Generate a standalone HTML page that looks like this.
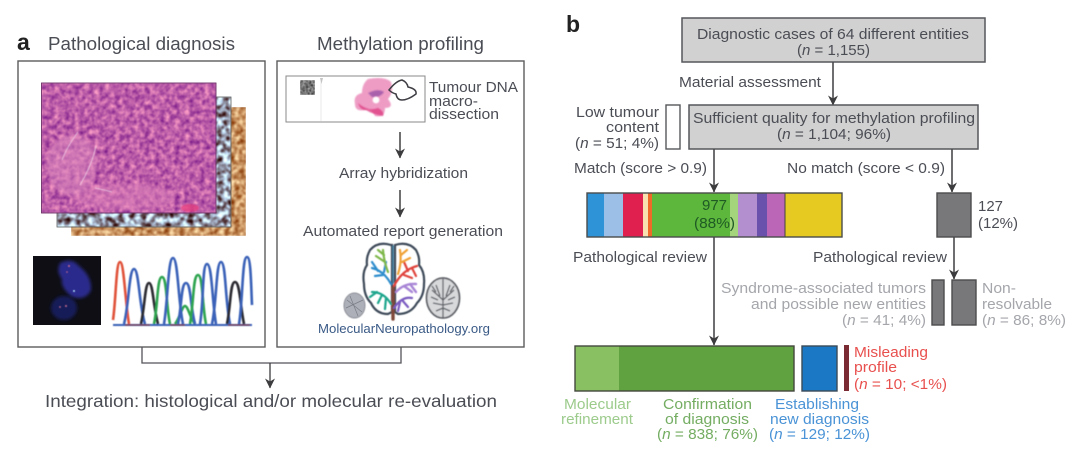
<!DOCTYPE html>
<html lang="en">
<head>
<meta charset="utf-8">
<title>Diagram</title>
<style>
html,body{margin:0;padding:0;background:#fff;width:1080px;height:456px;overflow:hidden}
svg{display:block;filter:blur(.35px)}
text{font-family:"Liberation Sans",sans-serif;font-size:15px;fill:#4b4d55}
.h{font-size:18px}
.g{fill:#a4a6ab}
.lg{fill:#9ccb8c}
.mg{fill:#74ad62}
.bl{fill:#4a93d6}
.rd{fill:#e8504e}
.i{font-style:italic}
.ln{fill:none;stroke:#4a4a4c;stroke-width:1.6}
</style>
</head>
<body>
<svg width="1080" height="456" viewBox="0 0 1080 456" xmlns="http://www.w3.org/2000/svg">
<defs>
<filter id="he" x="0" y="0" width="100%" height="100%" color-interpolation-filters="sRGB">
<feTurbulence type="fractalNoise" baseFrequency="0.2" numOctaves="2" seed="4"/>
<feColorMatrix type="matrix" values=".7 0 0 0 .39  .7 0 0 0 .02  .32 0 0 0 .5  0 0 0 0 1"/>
<feGaussianBlur stdDeviation=".6"/>
</filter>
<filter id="ih1" x="0" y="0" width="100%" height="100%" color-interpolation-filters="sRGB">
<feTurbulence type="fractalNoise" baseFrequency="0.17" numOctaves="2" seed="8"/>
<feColorMatrix type="matrix" values="1.5 0 0 0 -.17  2.2 0 0 0 -.5  2.5 0 0 0 -.58  0 0 0 0 1"/>
<feGaussianBlur stdDeviation=".7"/>
</filter>
<filter id="ih2" x="0" y="0" width="100%" height="100%" color-interpolation-filters="sRGB">
<feTurbulence type="fractalNoise" baseFrequency="0.2" numOctaves="2" seed="12"/>
<feColorMatrix type="matrix" values=".8 0 0 0 .38  1.1 0 0 0 .02  1.1 0 0 0 -.18  0 0 0 0 1"/>
<feGaussianBlur stdDeviation=".7"/>
</filter>
<filter id="soft" x="-30%" y="-30%" width="160%" height="160%"><feGaussianBlur stdDeviation="1.6"/></filter>
<filter id="soft2" x="-20%" y="-20%" width="140%" height="140%"><feGaussianBlur stdDeviation=".7"/></filter>
<filter id="soft3" x="-5%" y="-5%" width="110%" height="110%"><feGaussianBlur stdDeviation=".4"/></filter>
<filter id="qr" x="0" y="0" width="100%" height="100%" color-interpolation-filters="sRGB">
<feTurbulence type="fractalNoise" baseFrequency="0.6" numOctaves="1" seed="3"/>
<feColorMatrix type="matrix" values="1.2 0 0 0 -.15  1.2 0 0 0 -.15  1.2 0 0 0 -.15  0 0 0 0 1"/>
<feGaussianBlur stdDeviation=".4"/>
</filter>
<marker id="ar" viewBox="0 0 10 10" refX="9.500" refY="5" markerWidth="10" markerHeight="10" markerUnits="userSpaceOnUse" orient="auto"><path d="M0 0 L10 5 L0 10 L3 5 Z" fill="#3c3c3e"/></marker>
</defs>

<!-- Panel a titles -->
<text x="17" y="50" style="font-size:23px;font-weight:bold;fill:#222">a</text>
<text class="h" x="48" y="50" textLength="187" lengthAdjust="spacingAndGlyphs">Pathological diagnosis</text>
<text class="h" x="317" y="50" textLength="167" lengthAdjust="spacingAndGlyphs">Methylation profiling</text>

<!-- Panel a boxes -->
<rect x="18" y="61" width="247" height="286" fill="#fff" stroke="#5c5c5e" stroke-width="1.4"/>
<rect x="277" y="61" width="247" height="286" fill="#fff" stroke="#5c5c5e" stroke-width="1.4"/>

<!-- Histology stack -->
<rect x="71" y="107" width="175" height="129" filter="url(#ih2)"/>
<rect x="57" y="97" width="174" height="130" filter="url(#ih1)"/>
<rect x="57" y="97" width="174" height="130" fill="none" stroke="#5a5f60" stroke-width=".8"/>
<rect x="41.500" y="83" width="174.500" height="130" filter="url(#he)"/>
<rect x="41.500" y="83" width="174.500" height="130" fill="none" stroke="#6d2f66" stroke-width=".9"/>
<ellipse cx="125" cy="197" rx="50" ry="13" fill="#e084bb" opacity=".5" filter="url(#soft)"/>
<ellipse cx="72" cy="165" rx="25" ry="30" fill="#df8cc0" opacity=".5" filter="url(#soft)"/>
<ellipse cx="190" cy="208" rx="9" ry="4" fill="#e8407e" opacity=".75" filter="url(#soft2)"/>
<path d="M62 160 Q68 145 78 132M96 146 Q92 165 80 185M95 188 Q105 190 112 192" fill="none" stroke="#f1d8ea" stroke-width="1" opacity=".7" filter="url(#soft3)"/>

<!-- FISH -->
<rect x="33" y="256" width="68" height="69" fill="#0e0e14"/>
<path d="M60 263 Q72 257 79 266 Q92 276 91 290 Q86 301 72 297 Q60 287 62 279 Q56 272 60 263Z" fill="#2a2c8c" filter="url(#soft)"/>
<ellipse cx="64" cy="308" rx="13" ry="12" fill="#191b58" filter="url(#soft)"/>
<g fill="#c86a8c" filter="url(#soft3)"><circle cx="69" cy="266" r="1"/><circle cx="66" cy="306" r="1"/><circle cx="60" cy="307" r=".9"/><circle cx="67" cy="272" r=".8"/></g>
<circle cx="74" cy="291" r="1.1" fill="#9cc6e8" filter="url(#soft3)"/>

<!-- Chromatogram -->
<g fill="none" stroke-width="2.6" filter="url(#soft3)">
<path d="M175 324 C180 318 182 306 185 306 C188 306 190 318 195 324" stroke="#2fa450"/>
<path d="M113 320 C116 300 116 262 120 262 C124 262 125 300 129 324" stroke="#e0523a"/>
<path d="M124 324 C129 305 129 269 134 269 C139 269 139 305 145 324" stroke="#3a62b8"/>
<path d="M141 324 C145 305 145 283 149 283 C153 283 153 305 158 324" stroke="#2a2a30"/>
<path d="M154 324 C158 305 157 277 162 277 C167 277 166 305 170 324" stroke="#2fa450"/>
<path d="M164 324 C168 300 168 258 173 258 C178 258 178 300 183 324" stroke="#3a62b8"/>
<path d="M178 324 C182 305 181 283 186 283 C191 283 190 305 195 324" stroke="#3a62b8"/>
<path d="M190 324 C194 300 193 275 198 275 C203 275 202 305 206 324" stroke="#2fa450"/>
<path d="M200 324 C204 300 202 264 207 264 C212 264 212 300 216 324" stroke="#3a62b8"/>
<path d="M212 324 C217 300 216 262 221 262 C226 262 225 300 230 324" stroke="#3a62b8"/>
<path d="M227 324 C231 305 230 282 235 282 C240 282 240 305 244 324" stroke="#2a2a30"/>
<path d="M239 324 C243 300 242 257 247 257 C251 257 251 285 252 305" stroke="#3a62b8"/>
<path d="M113 325 H252" stroke="#3a62b8" stroke-width="2"/>
<path d="M125 325 H150M170 325 H185M228 325 H250" stroke="#7a3a3a" stroke-width="1.2"/>
</g>

<!-- Slide -->
<rect x="286" y="76" width="139" height="46" fill="#fff" stroke="#8a8a8a" stroke-width="1"/>
<rect x="300" y="80" width="15" height="15" filter="url(#qr)"/>
<path d="M321 78 V121" stroke="#e8e8e8" stroke-width="1"/>
<path d="M320 78 l1.500 6 l1.500 -6z" fill="#c4c4c4"/>
<path d="M368 79 Q385 76 391 82 Q394 92 388 99 Q395 108 385 108 Q385 118 375 116 Q372 108 365 110 Q355 112 355 104 Q353 95 362 93 Q362 84 368 79Z" fill="#ee9cc4" filter="url(#soft2)"/>
<path d="M358 103 Q368 112 378 108 Q385 112 383 116 Q372 114 366 110 Q360 110 358 103Z" fill="#de3f83" opacity=".8" filter="url(#soft2)"/>
<path d="M368 93 Q378 88 384 92 Q380 98 372 97Z" fill="#8e4aa3" opacity=".7" filter="url(#soft2)"/>
<circle cx="376" cy="100" r="3.400" fill="#fff" filter="url(#soft2)"/>
<path d="M389 90 Q396 81 402 80 Q407 82 408 87 Q417 89 416 94 Q408 100 402 100 Q397 100 396 94 Q392 93 389 90Z" fill="none" stroke="#3e3e44" stroke-width="1.500"/>

<text x="429" y="92" textLength="89" lengthAdjust="spacingAndGlyphs">Tumour DNA</text>
<text x="429" y="106" textLength="49" lengthAdjust="spacingAndGlyphs">macro-</text>
<text x="429" y="119" textLength="70" lengthAdjust="spacingAndGlyphs">dissection</text>

<line x1="400" y1="132" x2="400" y2="158" stroke="#222" stroke-width="1.3" marker-end="url(#ar)"/>
<text x="339" y="178" textLength="129" lengthAdjust="spacingAndGlyphs">Array hybridization</text>
<line x1="400" y1="190" x2="400" y2="217" stroke="#222" stroke-width="1.3" marker-end="url(#ar)"/>
<text x="303" y="236" textLength="200" lengthAdjust="spacingAndGlyphs">Automated report generation</text>

<!-- Brain -->
<g fill="none" stroke-linecap="round" filter="url(#soft3)">
<path d="M391 245 Q378 241 370 250 Q366 257 367 265 Q362 272 364 284 Q364 296 371 303 Q376 314 388 314 L392 312 L392 245Z" stroke="#3e4a58" stroke-width="2.200"/>
<path d="M395 245 Q408 241 416 250 Q420 257 419 265 Q425 272 424 284 Q424 296 417 303 Q411 314 398 314 L395 312 L395 245Z" stroke="#3e4a58" stroke-width="2.200"/>
<path d="M393 246 V283" stroke="#3f7d9e" stroke-width="1.600"/>
<path d="M393 288 V319" stroke="#80493a" stroke-width="3.400"/>
<path d="M391 284 Q384 271 372 268M383 275 L375 276M384 272 L386 262M378 271 L372 262" stroke="#2f8dcc" stroke-width="2.200"/>
<path d="M388 272 Q384 262 383 250M385 262 L376 256M384 255 L378 250" stroke="#7eb74a" stroke-width="2.200"/>
<path d="M391 304 Q384 292 372 292M382 295 L378 303M386 298 L385 309M377 292 L370 297" stroke="#1fa58c" stroke-width="2.200"/>
<path d="M394 286 Q402 270 417 266M404 275 L412 278M408 271 L404 262M412 268 L416 276" stroke="#e0443c" stroke-width="2.200"/>
<path d="M398 274 Q402 262 400 250M402 262 L410 258M401 255 L407 250" stroke="#f0a238" stroke-width="2.200"/>
<path d="M396 292 Q404 283 416 284M404 286 L412 292M410 284 L416 292" stroke="#a886d6" stroke-width="2.400"/>
<path d="M394 308 Q402 296 412 298M402 300 L408 307M400 302 L398 311" stroke="#7a5cc0" stroke-width="2.200"/>
</g>
<g fill="none" stroke="#5e6268" filter="url(#soft3)">
<ellipse cx="443" cy="298" rx="16.500" ry="20" fill="#d8d9db" stroke-width="1.800"/>
<path d="M443 279 V318M443 300 L432 290M443 305 L433 303M443 300 L454 290M443 305 L453 303M436 285 L440 296M450 285 L446 296M436 311 L443 308M450 311 L443 308M431 297 L438 300M455 297 L448 300M436 292 L432 286M450 292 L454 286" stroke-width="1.300"/>
</g>
<ellipse cx="354.500" cy="305.500" rx="10.500" ry="12.500" fill="#aeb0b9" stroke="#8a8c96" filter="url(#soft3)"/>
<path d="M347 300 L362 312M350 296 L358 316M346 308 L363 300" stroke="#7a7c86" stroke-width=".7"/>

<text x="318" y="333" textLength="172" lengthAdjust="spacingAndGlyphs" style="font-size:12.500px;fill:#3a5a86">MolecularNeuropathology.org</text>

<!-- Integration -->
<path d="M142 347 V363 H401 V347" fill="none" stroke="#55555a" stroke-width="1.300"/>
<line x1="270" y1="363" x2="270" y2="388" stroke="#3c3c3e" stroke-width="1.300" marker-end="url(#ar)"/>
<text x="45" y="407" textLength="452" lengthAdjust="spacingAndGlyphs" style="font-size:17.500px">Integration: histological and/or molecular re-evaluation</text>

<!-- Panel b -->
<text x="566" y="32" style="font-size:23px;font-weight:bold;fill:#222">b</text>

<rect x="682" y="18" width="303" height="44" fill="#d1d1d1" stroke="#55575a" stroke-width="1.500"/>
<text x="697" y="39" textLength="272" lengthAdjust="spacingAndGlyphs">Diagnostic cases of 64 different entities</text>
<text x="797" y="55" textLength="73" lengthAdjust="spacingAndGlyphs">(<tspan class="i">n</tspan> = 1,155)</text>

<line class="ln" x1="833" y1="62" x2="833" y2="105" marker-end="url(#ar)"/>
<text x="679" y="87" textLength="142" lengthAdjust="spacingAndGlyphs">Material assessment</text>

<rect x="689" y="105" width="289" height="44" fill="#d1d1d1" stroke="#55575a" stroke-width="1.500"/>
<text x="693" y="123" textLength="282" lengthAdjust="spacingAndGlyphs">Sufficient quality for methylation profiling</text>
<text x="777" y="139" textLength="114" lengthAdjust="spacingAndGlyphs">(<tspan class="i">n</tspan> = 1,104; 96%)</text>

<rect x="666" y="105" width="14" height="44" fill="#fff" stroke="#55575a" stroke-width="1.400"/>
<text x="576" y="117" textLength="83" lengthAdjust="spacingAndGlyphs">Low tumour</text>
<text x="606" y="132" textLength="53" lengthAdjust="spacingAndGlyphs">content</text>
<text x="575" y="148" textLength="84" lengthAdjust="spacingAndGlyphs">(<tspan class="i">n</tspan> = 51; 4%)</text>

<text x="574" y="173" textLength="133" lengthAdjust="spacingAndGlyphs">Match (score &gt; 0.9)</text>
<text x="787" y="173" textLength="158" lengthAdjust="spacingAndGlyphs">No match (score &lt; 0.9)</text>

<line class="ln" x1="714" y1="149" x2="714" y2="192" marker-end="url(#ar)"/>
<line class="ln" x1="952" y1="149" x2="952" y2="192" marker-end="url(#ar)"/>

<!-- Stacked bar -->
<g>
<rect x="587" y="193" width="17" height="44" fill="#2f93d8"/>
<rect x="604" y="193" width="19" height="44" fill="#9bbfe6"/>
<rect x="623" y="193" width="20" height="44" fill="#e0204e"/>
<rect x="643" y="193" width="5" height="44" fill="#f8e0b0"/>
<rect x="648" y="193" width="4" height="44" fill="#ef6a28"/>
<rect x="652" y="193" width="78" height="44" fill="#5cb73c"/>
<rect x="730" y="193" width="8" height="44" fill="#a4d47c"/>
<rect x="738" y="193" width="19" height="44" fill="#b48fd0"/>
<rect x="757" y="193" width="10" height="44" fill="#6a52ac"/>
<rect x="767" y="193" width="18" height="44" fill="#bb66b6"/>
<rect x="785" y="193" width="57" height="44" fill="#e6ca22"/>
<line x1="785" y1="193" x2="785" y2="237" stroke="#44443c" stroke-width="1"/>
<rect x="587" y="193" width="255" height="44" fill="none" stroke="#4a4c4c" stroke-width="1.400"/>
</g>
<text x="702" y="210" textLength="25" lengthAdjust="spacingAndGlyphs" style="fill:#1f5a24">977</text>
<text x="694" y="228" textLength="41" lengthAdjust="spacingAndGlyphs" style="fill:#1f5a24">(88%)</text>

<rect x="937" y="193" width="34" height="44" fill="#78787a" stroke="#4c4c4e" stroke-width="1.400"/>
<text x="978" y="211" textLength="25" lengthAdjust="spacingAndGlyphs">127</text>
<text x="978" y="228" textLength="40" lengthAdjust="spacingAndGlyphs">(12%)</text>

<text x="573" y="262" textLength="134" lengthAdjust="spacingAndGlyphs">Pathological review</text>
<text x="813" y="262" textLength="134" lengthAdjust="spacingAndGlyphs">Pathological review</text>

<line class="ln" x1="714" y1="237" x2="714" y2="345" marker-end="url(#ar)"/>
<line class="ln" x1="954" y1="237" x2="954" y2="279" marker-end="url(#ar)"/>

<rect x="932" y="280" width="12" height="45" fill="#78787a" stroke="#4c4c4e" stroke-width="1.400"/>
<rect x="952" y="280" width="24" height="45" fill="#78787a" stroke="#4c4c4e" stroke-width="1.400"/>
<text class="g" x="721" y="293" textLength="205" lengthAdjust="spacingAndGlyphs">Syndrome-associated tumors</text>
<text class="g" x="751" y="309" textLength="175" lengthAdjust="spacingAndGlyphs">and possible new entities</text>
<text class="g" x="842" y="325" textLength="84" lengthAdjust="spacingAndGlyphs">(<tspan class="i">n</tspan> = 41; 4%)</text>
<text class="g" x="982" y="293" textLength="34" lengthAdjust="spacingAndGlyphs">Non-</text>
<text class="g" x="982" y="309" textLength="70" lengthAdjust="spacingAndGlyphs">resolvable</text>
<text class="g" x="982" y="325" textLength="84" lengthAdjust="spacingAndGlyphs">(<tspan class="i">n</tspan> = 86; 8%)</text>

<!-- Bottom bars -->
<rect x="575" y="346" width="44" height="45" fill="#88c062"/>
<rect x="619" y="346" width="175" height="45" fill="#5fa23f"/>
<rect x="575" y="346" width="219" height="45" fill="none" stroke="#44483f" stroke-width="1.400"/>
<rect x="802" y="346" width="35" height="45" fill="#1a78c4" stroke="#3a4a58" stroke-width="1.400"/>
<rect x="844" y="345" width="5" height="46" fill="#7a2a32"/>

<text class="rd" x="854" y="357" textLength="74" lengthAdjust="spacingAndGlyphs">Misleading</text>
<text class="rd" x="854" y="372" textLength="43" lengthAdjust="spacingAndGlyphs">profile</text>
<text class="rd" x="854" y="389" textLength="93" lengthAdjust="spacingAndGlyphs">(<tspan class="i">n</tspan> = 10; &lt;1%)</text>

<text class="lg" x="564" y="409" textLength="67" lengthAdjust="spacingAndGlyphs">Molecular</text>
<text class="lg" x="561" y="424" textLength="72" lengthAdjust="spacingAndGlyphs">refinement</text>
<text class="mg" x="663" y="409" textLength="89" lengthAdjust="spacingAndGlyphs">Confirmation</text>
<text class="mg" x="665" y="424" textLength="84" lengthAdjust="spacingAndGlyphs">of diagnosis</text>
<text class="mg" x="657" y="439" textLength="101" lengthAdjust="spacingAndGlyphs">(<tspan class="i">n</tspan> = 838; 76%)</text>
<text class="bl" x="775" y="409" textLength="84" lengthAdjust="spacingAndGlyphs">Establishing</text>
<text class="bl" x="770" y="424" textLength="99" lengthAdjust="spacingAndGlyphs">new diagnosis</text>
<text class="bl" x="769" y="439" textLength="101" lengthAdjust="spacingAndGlyphs">(<tspan class="i">n</tspan> = 129; 12%)</text>
</svg>
</body>
</html>
